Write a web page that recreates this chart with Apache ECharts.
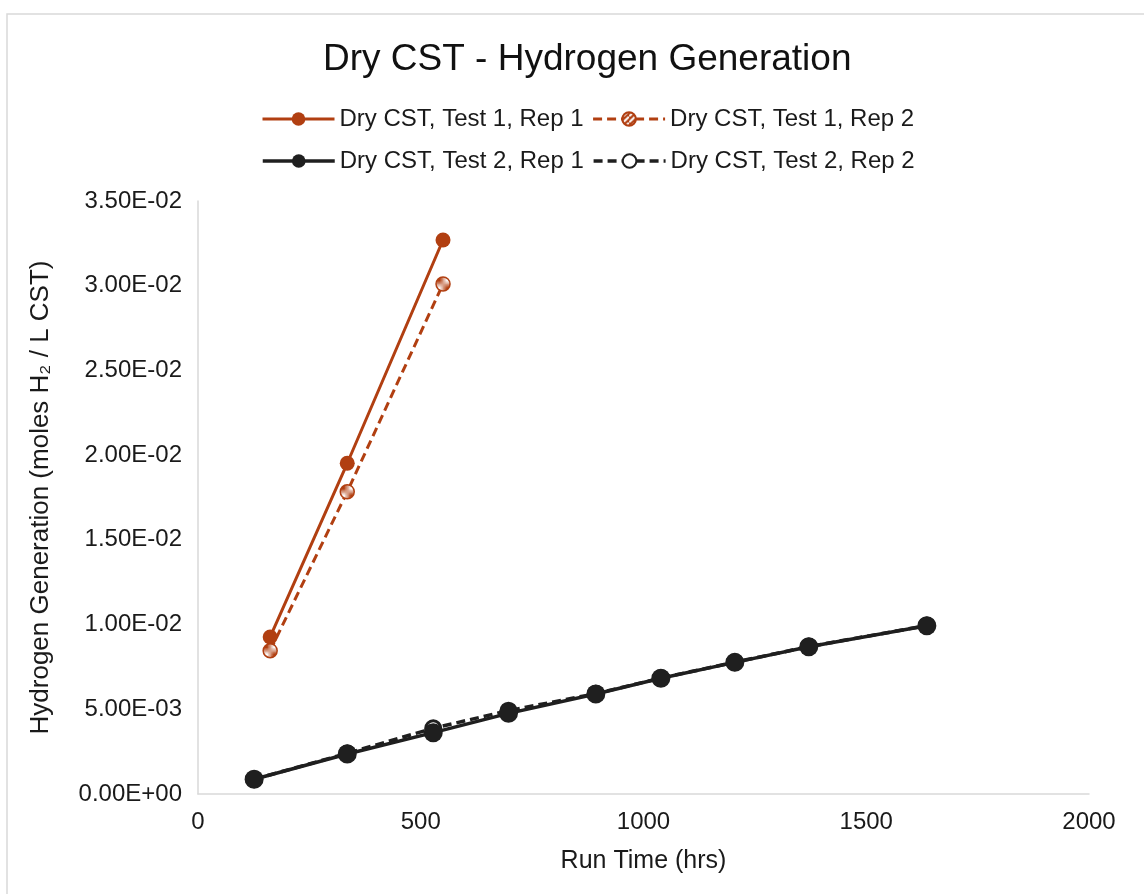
<!DOCTYPE html>
<html>
<head>
<meta charset="utf-8">
<title>Dry CST - Hydrogen Generation</title>
<script src="https://cdn.jsdelivr.net/npm/echarts@6/dist/echarts.min.js"></script>
<style>
  html, body { margin: 0; padding: 0; background: #fff; }
  #chart { width: 1144px; height: 894px; }
</style>
</head>
<body>
<div id="chart"></div>
<script>
// run time (hrs) and H2 generated (moles / L CST)
const test1Hours = [162, 335, 550];
const test1Rep1 = [0.00927, 0.01952, 0.0327];
const test1Rep2 = [0.00846, 0.01784, 0.0301];

const test2Hours = [126, 335, 528, 697, 893, 1039, 1205, 1371, 1636];
const test2Rep1 = [0.00087, 0.00236, 0.00362, 0.00476, 0.0059, 0.00683, 0.00777, 0.00869, 0.00993];
const test2Rep2 = [0.00087, 0.0024, 0.00388, 0.00492, 0.00592, 0.00684, 0.00778, 0.0087, 0.00994];

const seriesNames = [
  'Dry CST, Test 1, Rep 1',
  'Dry CST, Test 1, Rep 2',
  'Dry CST, Test 2, Rep 1',
  'Dry CST, Test 2, Rep 2'
];

const ORANGE = '#b13f11';
const BLACK = '#1f1f1f';
const FONT = '"Liberation Sans", Arial, sans-serif';

function pairs(xs, ys) {
  return xs.map((x, i) => [x, ys[i]]);
}

// striped fill for the Test 1 Rep 2 markers
function hatch() {
  const c = document.createElement('canvas');
  c.width = 6;
  c.height = 6;
  const ctx = c.getContext('2d');
  ctx.fillStyle = ORANGE;
  ctx.fillRect(0, 0, 6, 6);
  ctx.strokeStyle = '#ffffff';
  ctx.lineWidth = 2;
  ctx.beginPath();
  ctx.moveTo(-1, 7);
  ctx.lineTo(7, -1);
  ctx.stroke();
  return c;
}

function sciLabel(v) {
  const parts = v.toExponential(2).split('e');
  let exp = parseInt(parts[1], 10);
  const sign = exp < 0 ? '-' : '+';
  exp = Math.abs(exp);
  return parts[0] + 'E' + sign + (exp < 10 ? '0' + exp : exp);
}

const chart = echarts.init(document.getElementById('chart'));

const legendCommon = {
  left: 256,
  itemWidth: 72,
  itemHeight: 17,
  itemGap: 8,
  lineStyle: { width: 'inherit' },
  textStyle: { fontFamily: FONT, fontSize: 24, color: '#1a1a1a' }
};

chart.setOption({
  backgroundColor: '#fff',
  animation: false,
  title: {
    text: 'Dry CST - Hydrogen Generation',
    left: 318,
    top: 36,
    textStyle: { fontFamily: FONT, fontSize: 37, fontWeight: 'normal', color: '#111' }
  },
  legend: [
    Object.assign({ top: 102, data: [seriesNames[0], seriesNames[1]] }, legendCommon),
    Object.assign({ top: 144, data: [seriesNames[2], seriesNames[3]] }, legendCommon)
  ],
  graphic: [{
    type: 'rect',
    shape: { x: 7, y: 14, width: 1160, height: 900 },
    style: { fill: 'none', stroke: '#d9d9d9', lineWidth: 1.5 },
    silent: true
  }],
  grid: { left: 198, right: 55, top: 201, bottom: 100 },
  xAxis: {
    type: 'value',
    min: 0,
    max: 2000,
    interval: 500,
    name: 'Run Time (hrs)',
    nameLocation: 'middle',
    nameGap: 55,
    nameTextStyle: { fontFamily: FONT, fontSize: 25, color: '#1a1a1a' },
    axisLine: { show: true, lineStyle: { color: '#d9d9d9', width: 1.5 } },
    axisTick: { show: false },
    splitLine: { show: false },
    axisLabel: { fontFamily: FONT, fontSize: 24, color: '#1a1a1a', margin: 16, formatter: v => String(v) }
  },
  yAxis: {
    type: 'value',
    min: 0,
    max: 0.035,
    interval: 0.005,
    name: 'Hydrogen Generation (moles H\u2082 / L CST)',
    nameLocation: 'middle',
    nameGap: 144,
    nameTextStyle: { fontFamily: FONT, fontSize: 26, color: '#1a1a1a' },
    axisLine: { show: true, lineStyle: { color: '#d9d9d9', width: 1.5 } },
    axisTick: { show: false },
    splitLine: { show: false },
    axisLabel: { fontFamily: FONT, fontSize: 24, color: '#1a1a1a', margin: 16, formatter: sciLabel }
  },
  series: [
    {
      name: seriesNames[2],
      type: 'line',
      data: pairs(test2Hours, test2Rep1),
      symbol: 'circle',
      symbolSize: 19,
      lineStyle: { color: BLACK, width: 3.5 },
      itemStyle: { color: BLACK },
      z: 3
    },
    {
      name: seriesNames[3],
      type: 'line',
      data: pairs(test2Hours, test2Rep2),
      symbol: 'circle',
      symbolSize: 15,
      lineStyle: { color: BLACK, width: 3.5, type: [9, 5] },
      itemStyle: { color: '#fff', borderColor: BLACK, borderWidth: 3 },
      z: 2
    },
    {
      name: seriesNames[0],
      type: 'line',
      data: pairs(test1Hours, test1Rep1),
      symbol: 'circle',
      symbolSize: 15,
      lineStyle: { color: ORANGE, width: 3 },
      itemStyle: { color: ORANGE },
      z: 4
    },
    {
      name: seriesNames[1],
      type: 'line',
      data: pairs(test1Hours, test1Rep2),
      symbol: 'circle',
      symbolSize: 14,
      lineStyle: { color: ORANGE, width: 3, type: [9, 5] },
      itemStyle: { color: { image: hatch(), repeat: 'repeat' }, borderColor: ORANGE, borderWidth: 1.5 },
      z: 4
    }
  ]
});
</script>
</body>
</html>
